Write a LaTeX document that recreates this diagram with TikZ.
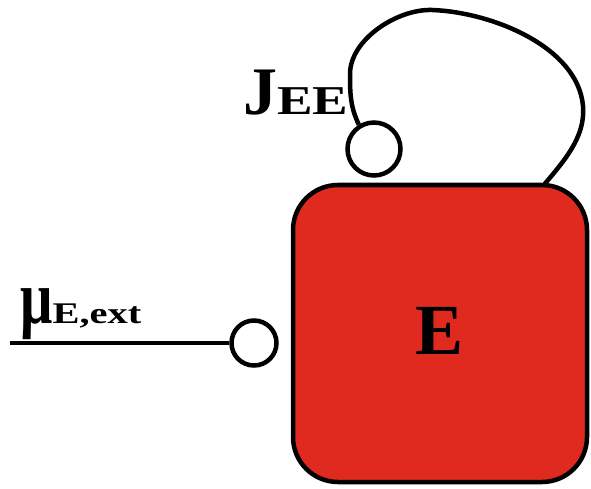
\documentclass[tikz,border=0pt]{standalone}
\usepackage{fontspec}
\setmainfont{Liberation Serif}
\definecolor{boxred}{RGB}{224,41,31}
\begin{document}
\begin{tikzpicture}[x=1pt,y=-1pt,
  port/.style={draw=black,line width=4.5pt,circle,inner sep=0pt,fill=white},
  wire/.style={draw=black,line width=4.5pt},
  lbl/.style={inner sep=0pt,font=\bfseries}]
\useasboundingbox (0,0) rectangle (591,489);
\node[draw=black,line width=4.5pt,fill=boxred,rounded corners=45pt,
      minimum width=294pt,minimum height=297pt,inner sep=0pt,
      font=\bfseries\fontsize{72}{72}\selectfont] (E) at (440,333.5) {\raisebox{5pt}{E}};
\node[port,minimum size=45pt] (in) at (254,343) {};
\node[port,minimum size=53pt] (j) at (374,149) {};
\coordinate (src) at (10,343);
\coordinate (top) at (543,186);
\coordinate (l1) at (350,74);
\coordinate (l2) at (432,10);
\coordinate (l3) at (583,106);
\draw[wire] (src) -- (in.west);
\draw[wire] (j.122) to[out=115,in=270] (l1)
  to[out=90,in=178,looseness=0.85] (l2)
  to[out=-2,in=95,looseness=0.85] (l3)
  to[out=275,in=50,looseness=0.9] (top);
\node[lbl,anchor=base west] (jlab) at (243,115)
  {{\fontsize{68}{68}\selectfont J}\scalebox{1.3}[1]{\fontsize{41}{41}\selectfont EE}};
\node[lbl,anchor=base west] (mulab) at (20,323)
  {\scalebox{0.75}[1]{\fontsize{76}{76}\selectfont μ}\scalebox{1.35}[1]{\fontsize{30}{30}\selectfont E,ext}};
\end{tikzpicture}
\end{document}
